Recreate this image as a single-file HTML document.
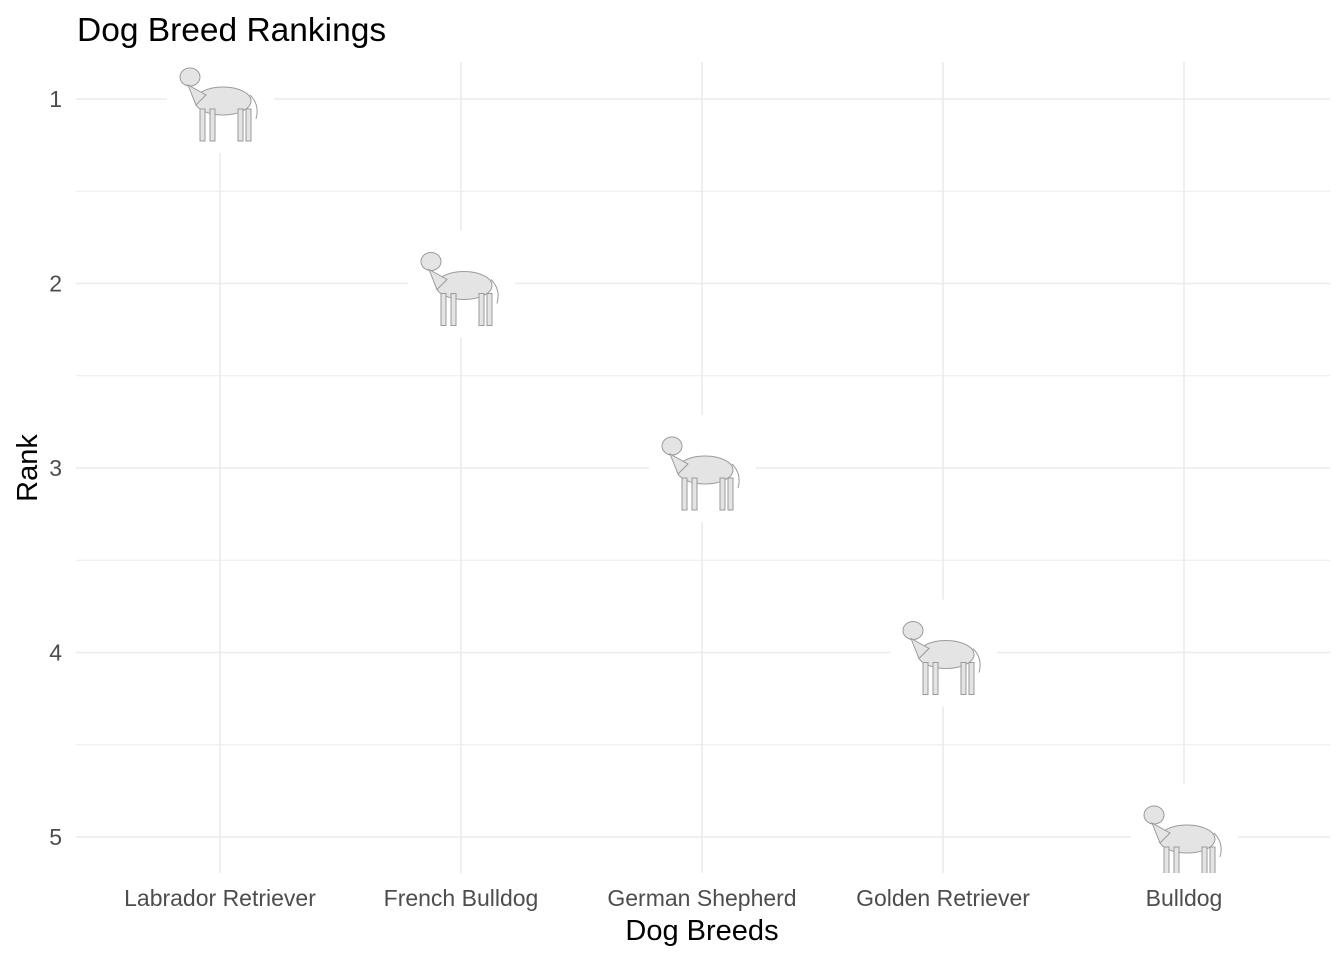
<!DOCTYPE html>
<html><head><meta charset="utf-8"><style>
body{margin:0;background:#fff;}
svg{display:block;font-family:"Liberation Sans",sans-serif;}
</style></head><body>
<svg id="chart" width="1344" height="960">
<text x="77" y="41" font-size="33.5" fill="#000">Dog Breed Rankings</text>
<g id="grid"></g><g id="marks"></g><g id="axes"></g>
<text x="702" y="940" font-size="29" text-anchor="middle" fill="#000">Dog Breeds</text>
<text transform="translate(37,468) rotate(-90)" font-size="29" text-anchor="middle" fill="#000">Rank</text>
</svg>
<script>
const breeds=["Labrador Retriever","French Bulldog","German Shepherd","Golden Retriever","Bulldog"];
const ranks=[1,2,3,4,5];
const yTicks=[1,2,3,4,5];
const NS="http://www.w3.org/2000/svg";
const L=76,R=1330,T=62,B=873;
const step=241;
function xPos(i){return 220+step*i;}
function yPos(v){return 99+(v-1)*184.5;}
function mk(tag,attrs,parent){const e=document.createElementNS(NS,tag);for(const k in attrs)e.setAttribute(k,attrs[k]);parent.appendChild(e);return e;}
const grid=document.getElementById('grid'),marks=document.getElementById('marks'),axes=document.getElementById('axes');
for(let v=0.5;v<=5.5;v+=0.5){const y=yPos(v);if(y<T||y>B)continue;
 const l=mk('line',{x1:L,x2:R,y1:y,y2:y,stroke:'#ebebeb','stroke-width':v%1?1:1.6},grid);
 
 }
breeds.forEach((b,i)=>{const x=xPos(i);
 const l=mk('line',{x1:x,x2:x,y1:T,y2:B,stroke:'#ebebeb','stroke-width':1.6},grid);
 
 
 const t=mk('text',{x:x,y:906,'font-size':23,'text-anchor':'middle',fill:'#4d4d4d'},axes);t.textContent=b;
 
 });
yTicks.forEach(v=>{const t=mk('text',{x:62,y:yPos(v)+8,'font-size':23,'text-anchor':'end',fill:'#4d4d4d'},axes);t.textContent=v;
 
 });
mk('clipPath',{id:'pc'},marks);mk('rect',{x:L,y:T,width:R-L,height:B-T},document.getElementById('pc'));
ranks.forEach((r,i)=>{const cx=xPos(i),cy=yPos(r);
 const g=mk('g',{'clip-path':'url(#pc)'},marks);
 
 
 mk('rect',{x:cx-53,y:cy-53,width:107,height:107,fill:'#fff'},g);
 const s=mk('g',{transform:`translate(${cx},${cy})`,fill:'#e4e4e4',stroke:'#9a9a9a','stroke-width':1},g);
 mk('ellipse',{cx:3,cy:2,rx:28,ry:14},s);
 mk('ellipse',{cx:-30,cy:-22,rx:10,ry:9},s);
 mk('path',{d:'M-32,-14 L-24,6 L-14,-4 Z'},s);
 [-20,-10,18,26].forEach(lx=>mk('rect',{x:lx,y:10,width:5,height:32},s));
 mk('path',{d:'M30,-4 Q40,6 36,20',fill:'none'},s);
});
</script>
</body></html>
